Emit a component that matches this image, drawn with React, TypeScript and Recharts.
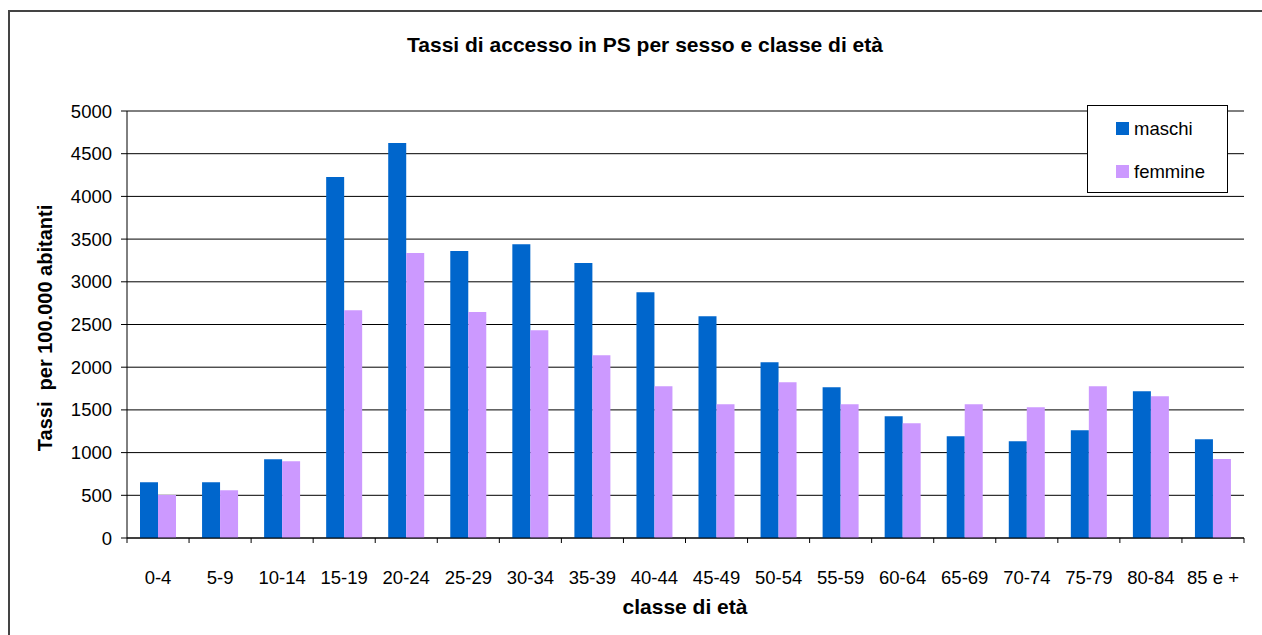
import React from 'react';
import { BarChart, Bar, XAxis, YAxis, CartesianGrid } from 'recharts';

const categories = ['0-4', '5-9', '10-14', '15-19', '20-24', '25-29', '30-34', '35-39', '40-44', '45-49', '50-54', '55-59', '60-64', '65-69', '70-74', '75-79', '80-84', '85 e +'];
const maschi = [653, 653, 922, 4227, 4626, 3360, 3441, 3219, 2879, 2598, 2058, 1765, 1425, 1191, 1133, 1262, 1719, 1156];
const femmine = [504, 559, 899, 2668, 3336, 2645, 2434, 2141, 1777, 1566, 1824, 1566, 1343, 1566, 1531, 1777, 1660, 924];
const yTicks = [0, 500, 1000, 1500, 2000, 2500, 3000, 3500, 4000, 4500, 5000];
const seriesNames = ['maschi', 'femmine'];
const seriesColors = ['#0066CC', '#CC99FF'];
const title = 'Tassi di accesso in PS per sesso e classe di età';
const yLabel = 'Tassi\u00a0 per 100.000 abitanti';
const xLabel = 'classe di età';

const data = categories.map((c, i) => ({ cat: c, maschi: maschi[i], femmine: femmine[i] }));

const FONT = '"Liberation Sans", Arial, sans-serif';

const XTick = (props: any) => {
  const { x, y, payload, index } = props;
  const half = payload && payload.offset ? payload.offset : 31.03;
  const last = index === categories.length - 1;
  return (
    <g>
      <line x1={x - half} x2={x - half} y1={y} y2={y + 5} stroke="#000" />
      {last && <line x1={x + half} x2={x + half} y1={y} y2={y + 5} stroke="#000" />}
      <text x={x} y={y + 39} textAnchor="middle" dominantBaseline="central" fontSize={18.5} fontFamily={FONT} fill="#000">
        {payload.value}
      </text>
    </g>
  );
};

export default function App() {
  return (
    <div style={{ position: 'absolute', left: 0, top: 0, width: 1262, height: 635, overflow: 'hidden', background: '#fff' }}>
      <div style={{ position: 'absolute', left: 8, top: 10, width: 1400, height: 800, borderLeft: '2px solid #444', borderTop: '2px solid #444', boxSizing: 'border-box' }} />
      <div style={{ position: 'absolute', left: 0, top: 0 }}>
        <BarChart
          width={1262}
          height={635}
          data={data}
          margin={{ top: 111, right: 18, bottom: 67, left: 0 }}
          barGap={0}
          style={{ fontFamily: FONT }}
        >
          <CartesianGrid vertical={false} stroke="#000" />
          <XAxis
            dataKey="cat"
            height={30}
            interval={0}
            tickLine={false}
            tickSize={0}
            tickMargin={0}
            axisLine={{ stroke: '#000' }}
            tick={<XTick />}
          />
          <YAxis
            width={127}
            domain={[0, 5000]}
            ticks={yTicks}
            interval={0}
            tickSize={6}
            tickMargin={9}
            axisLine={{ stroke: '#000' }}
            tickLine={{ stroke: '#000' }}
            tick={{ fontSize: 18.5, fill: '#000', fontFamily: FONT }}
          />
          <YAxis
            yAxisId="r"
            orientation="right"
            width={0}
            domain={[0, 5000]}
            tick={false}
            tickLine={false}
            axisLine={{ stroke: '#000' }}
          />
          <Bar dataKey="maschi" name={seriesNames[0]} fill={seriesColors[0]} barSize={18} isAnimationActive={false} />
          <Bar dataKey="femmine" name={seriesNames[1]} fill={seriesColors[1]} barSize={18} isAnimationActive={false} />
        </BarChart>
      </div>
      <svg width={1262} height={635} style={{ position: 'absolute', left: 0, top: 0, pointerEvents: 'none' }}>
        <text x={645} y={44} textAnchor="middle" dominantBaseline="central" fontWeight="bold" fontSize={21} fontFamily={FONT} fill="#000">
          {title}
        </text>
        <text x={45} y={328} transform="rotate(-90, 45, 328)" textAnchor="middle" dominantBaseline="central" fontWeight="bold" fontSize={20} fontFamily={FONT} fill="#000">
          {yLabel}
        </text>
        <text x={685} y={606} textAnchor="middle" dominantBaseline="central" fontWeight="bold" fontSize={21} fontFamily={FONT} fill="#000">
          {xLabel}
        </text>
      </svg>
      <div style={{ position: 'absolute', left: 1087, top: 105, width: 141, height: 88, boxSizing: 'border-box', border: '1px solid #000', background: '#fff', fontFamily: FONT, fontSize: 18.5, color: '#000' }}>
        {seriesNames.map((n, i) => (
          <div key={n} style={{ position: 'absolute', left: 28, top: 15.7 + i * 43, height: 13, display: 'flex', alignItems: 'center', whiteSpace: 'nowrap' }}>
            <span style={{ width: 13, height: 13, background: seriesColors[i], display: 'inline-block' }} />
            <span style={{ marginLeft: 5, lineHeight: '13px' }}>{n}</span>
          </div>
        ))}
      </div>
    </div>
  );
}
